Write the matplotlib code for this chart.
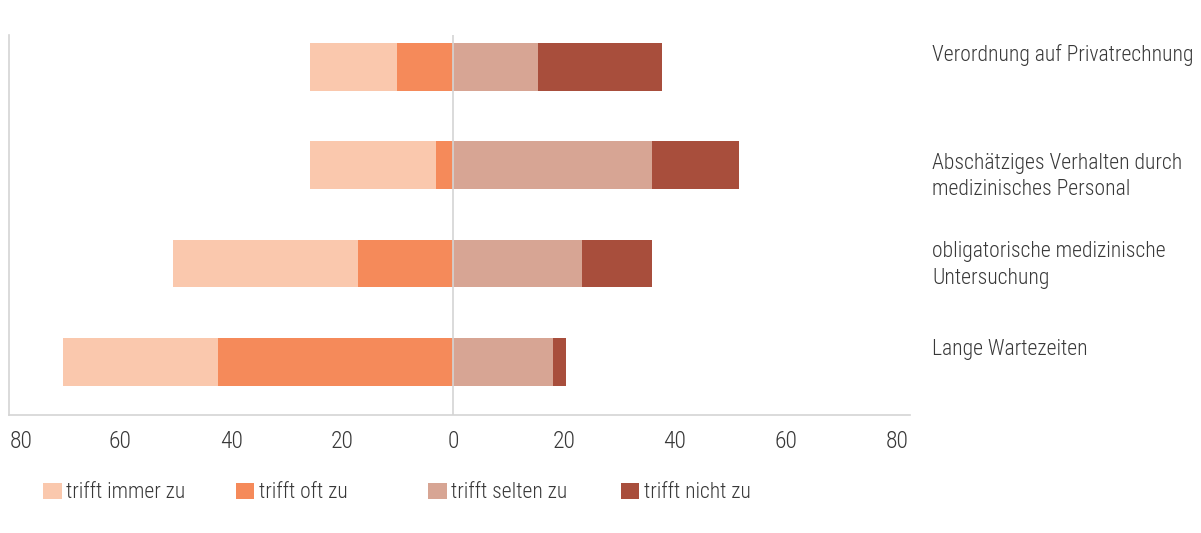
import matplotlib
matplotlib.use("Agg")
import matplotlib.pyplot as plt
from matplotlib.patches import Patch
from matplotlib.ticker import FuncFormatter
from matplotlib.transforms import blended_transform_factory
import numpy as np

# categories, top to bottom as in the chart
categories = [
    "Verordnung auf Privatrechnung",
    "Abschätziges Verhalten durch\nmedizinisches Personal",
    "obligatorische medizinische\nUntersuchung",
    "Lange Wartezeiten",
]
series_names = ["trifft immer zu", "trifft oft zu", "trifft selten zu", "trifft nicht zu"]

# shares in percent
immer = [15.6, 22.7, 33.2, 28.1]
oft = [10.1, 3.0, 17.2, 42.3]
selten = [15.4, 35.8, 23.3, 18.1]
nicht = [22.3, 15.7, 12.6, 2.2]

ticks = [-80, -60, -40, -20, 0, 20, 40, 60, 80]

colors = ["#FAC8AD", "#F58A5A", "#D7A594", "#A84E3C"]
text_color = "#383838"
grey = "#d4d4d4"

plt.rcParams["font.family"] = ["Roboto Condensed", "Barlow Condensed", "Archivo Narrow", "DejaVu Sans"]
plt.rcParams["font.weight"] = "light"

W, H = 1201, 533
fig = plt.figure(figsize=(W / 100, H / 100), dpi=100)
ax = fig.add_axes([9.3 / W, 1 - 415 / H, (910 - 9.3) / W, (415 - 35) / H])

n = len(categories)
y = np.arange(n)[::-1]
bh = 0.485

neg_oft = -np.array(oft)
neg_immer = -np.array(immer)
ax.barh(y, neg_oft, height=bh, color=colors[1], zorder=2)
ax.barh(y, neg_immer, left=neg_oft, height=bh, color=colors[0], zorder=2)
ax.barh(y, selten, height=bh, color=colors[2], zorder=2)
ax.barh(y, nicht, left=selten, height=bh, color=colors[3], zorder=2)

ax.axvline(0, color=grey, lw=1.2, zorder=3)

ax.set_xlim(-80, 82.4)
ax.set_ylim(-0.539, n - 1 + 0.325)
ax.set_xticks(ticks)
ax.xaxis.set_major_formatter(FuncFormatter(lambda v, p: f"{abs(v):.0f}"))
ax.set_yticks([])
ax.tick_params(axis="x", length=0, pad=11, labelsize=17, labelcolor=text_color)
fig.canvas.draw()
ax.get_xticklabels()[0].set_horizontalalignment("left")

for side in ("top", "right"):
    ax.spines[side].set_visible(False)
for side in ("left", "bottom"):
    ax.spines[side].set_color(grey)
    ax.spines[side].set_linewidth(1.2)

# category labels on the right, hanging from the bar top
label_nudge = [0.0, 0.1, 0.0, 0.0]
tr = blended_transform_factory(fig.transFigure, ax.transData)
for yi, lab, nud in zip(y, categories, label_nudge):
    ax.text(932 / W, yi + 0.23 - nud, lab, transform=tr, ha="left", va="top",
            fontsize=15.6, color=text_color, linespacing=1.35)

# legend, one entry per fixed-width slot
leg_x0, leg_step, leg_y = 43, 192.5, 493
for i, (name, c) in enumerate(zip(series_names, colors)):
    fig.legend(handles=[Patch(facecolor=c, edgecolor="none")], labels=[name],
               loc="center left", bbox_to_anchor=((leg_x0 + i * leg_step) / W, 1 - leg_y / H),
               frameon=False, fontsize=15.5, labelcolor=text_color, borderpad=0,
               borderaxespad=0, handlelength=0.86, handleheight=0.77, handletextpad=0.23)

fig.savefig("out.png", dpi=100)
